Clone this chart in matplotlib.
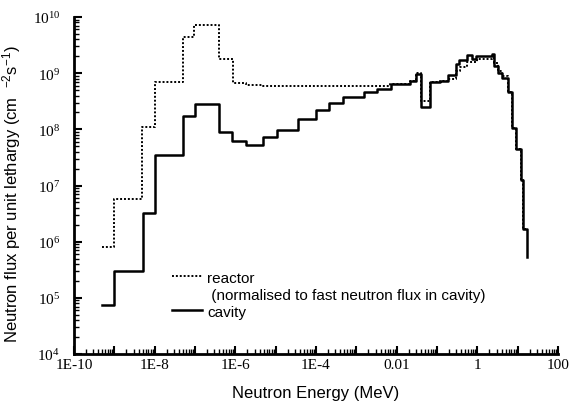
import matplotlib
matplotlib.use('Agg')
import matplotlib.pyplot as plt
from matplotlib.lines import Line2D
from matplotlib.ticker import LogLocator, NullFormatter

plt.rcParams['mathtext.fontset'] = 'custom'
plt.rcParams['mathtext.rm'] = 'Liberation Serif'

# group edges (MeV) and flux per unit lethargy; last value is where the line ends
cavity_e = [4.9e-10, 1e-9, 5e-9, 1e-8, 5e-8, 1e-7, 4e-7, 8.5e-7, 1.8e-6, 4.9e-6,
            1.07e-5, 3.6e-5, 1e-4, 2.1e-4, 4.6e-4, 1.55e-3, 3.2e-3, 7.2e-3, 0.021, 0.030,
            0.040, 0.068, 0.12, 0.19, 0.30, 0.35, 0.56, 0.72, 0.95, 2.3,
            2.6, 3.3, 4.0, 5.9, 7.1, 9.3, 12, 13.8, 16.6]
cavity_flux = [7.5e4, 3.0e5, 3.3e6, 3.5e7, 1.7e8, 2.8e8, 9.1e7, 6.3e7, 5.2e7, 7.2e7,
               9.8e7, 1.5e8, 2.2e8, 3.0e8, 3.7e8, 4.7e8, 5.2e8, 6.3e8, 7.4e8, 9.5e8,
               2.5e8, 7.1e8, 7.4e8, 9.1e8, 1.45e9, 1.75e9, 2.1e9, 1.8e9, 2.05e9, 2.2e9,
               1.35e9, 1.0e9, 8.3e8, 4.6e8, 1.07e8, 4.5e7, 1.23e7, 1.7e6, 5.3e5]

reactor_e = [4.9e-10, 1e-9, 4.9e-9, 1e-8, 4.9e-8, 9.5e-8, 4e-7, 8.9e-7, 1.8e-6, 4.9e-6,
             4.4e-4, 6.9e-3, 0.021, 0.030, 0.040, 0.068, 0.12, 0.19, 0.30, 0.37,
             0.56, 1.0, 2.3, 2.6, 3.3, 4.0, 5.9, 7.1, 9.3, 12, 13.8, 15.8]
reactor_flux = [8e5, 5.8e6, 1.1e8, 6.9e8, 4.4e9, 7.2e9, 1.8e9, 6.6e8, 6.2e8, 5.8e8,
                6.0e8, 6.4e8, 7.4e8, 1.0e9, 3.2e8, 6.9e8, 7.4e8, 8.0e8, 1.1e9, 1.3e9,
                1.6e9, 1.8e9, 2.0e9, 1.5e9, 1.1e9, 8.9e8, 4.6e8, 1.07e8, 4.5e7, 1.23e7,
                1.7e6, 1.7e6]

x_ticks = [1e-10, 1e-9, 1e-8, 1e-7, 1e-6, 1e-5, 1e-4, 1e-3, 1e-2, 1e-1, 1, 10, 100]
x_labels = ['1E-10', '', '1E-8', '', '1E-6', '', '1E-4', '', '0.01', '', '1', '', '100']
y_ticks = [1e4, 1e5, 1e6, 1e7, 1e8, 1e9, 1e10]
y_labels = [r'$\mathdefault{10^{%d}}$' % p for p in range(4, 11)]

fig = plt.figure(figsize=(5.71, 4.14), dpi=100)
ax = fig.add_axes([0.1296, 0.1425, 0.8476, 0.814])

ax.step(reactor_e, reactor_flux, where='post', color='black', lw=1.4,
        linestyle=(0, (1, 1)), zorder=2)
ax.step(cavity_e, cavity_flux, where='post', color='black', lw=1.8, zorder=3)

ax.set_xscale('log')
ax.set_yscale('log')
ax.set_xlim(1e-10, 100)
ax.set_ylim(1e4, 1e10)

ax.set_xticks(x_ticks)
ax.set_xticklabels(x_labels)
ax.set_yticks(y_ticks)
ax.set_yticklabels(y_labels)
ax.xaxis.set_minor_locator(LogLocator(base=10, subs=range(2, 10), numticks=50))
ax.xaxis.set_minor_formatter(NullFormatter())
ax.yaxis.set_minor_locator(LogLocator(base=10, subs=range(2, 10), numticks=50))
ax.yaxis.set_minor_formatter(NullFormatter())

for s in ['top', 'right']:
    ax.spines[s].set_visible(False)
for s in ['left', 'bottom']:
    ax.spines[s].set_linewidth(2)

ax.tick_params(which='major', direction='in', length=6, width=1.5, labelsize=11)
ax.tick_params(which='minor', direction='in', length=3.5, width=1)
ax.tick_params(axis='x', which='major', pad=3)
ax.tick_params(axis='y', which='major', pad=10)
for lab in ax.get_xticklabels() + ax.get_yticklabels():
    lab.set_fontfamily('Liberation Serif')

ax.set_xlabel('Neutron Energy (MeV)', fontsize=12, family='Liberation Sans', labelpad=10)
ax.set_ylabel(r'Neutron flux per unit lethargy (cm  $\mathdefault{^{-2}}$s$\mathdefault{^{-1}}$)',
              fontsize=12, family='Liberation Sans')
ax.yaxis.set_label_coords(-0.105, 0.476)

handles = [Line2D([], [], color='black', lw=1.4, linestyle=(0, (1, 1))),
           Line2D([], [], color='none'),
           Line2D([], [], color='black', lw=1.8)]
labels = ['reactor', ' (normalised to fast neutron flux in cavity)', 'cavity']
ax.legend(handles, labels, loc='upper left', bbox_to_anchor=(0.202, 0.2475),
          frameon=False, borderpad=0, borderaxespad=0, handlelength=2.0,
          handletextpad=0.3, labelspacing=0.2,
          prop={'family': 'Liberation Sans', 'size': 11})

fig.savefig('out.png', dpi=100)
